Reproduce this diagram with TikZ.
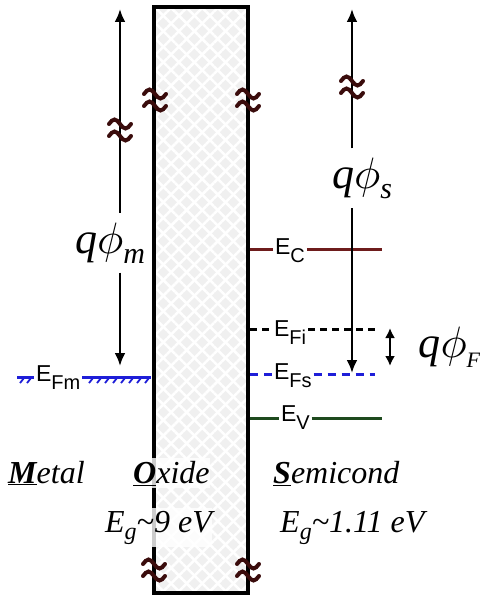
\documentclass[tikz,border=0pt]{standalone}
\usepackage{graphicx}
\usepackage{fontspec}
\setmainfont{Liberation Serif}
\newfontfamily\lsans{Liberation Sans}
\usetikzlibrary{arrows.meta,patterns.meta,calc}
\definecolor{brkcol}{HTML}{3A0C0C}
\definecolor{eccol}{HTML}{6E1C1C}
\definecolor{evcol}{HTML}{1E4A1E}
\definecolor{efcol}{HTML}{1E1ED8}
\definecolor{oxfill}{HTML}{F0F0F0}
\newcommand{\levlab}[1]{{\lsans\fontsize{23}{23}\selectfont E\raisebox{-8pt}{\fontsize{20}{20}\selectfont #1}}}
\newcommand{\qphilab}[2][30]{{\fontsize{44}{44}\selectfont\textit{q}{\fontsize{10}{12}\selectfont\scalebox{4.4}{$\phi$}}\raisebox{-10pt}{\fontsize{#1}{#1}\selectfont\textit{#2}}}}
\newcommand{\egaplab}{\textit{E}\raisebox{-7pt}{\fontsize{24}{24}\selectfont\textit{g}}}
\tikzset{
  arr/.style={line width=2.5pt,-{Latex[length=13pt,width=11pt]}},
  darr/.style={line width=2.5pt,{Latex[length=10pt,width=10pt]}-{Latex[length=10pt,width=10pt]}},
  qlab/.style={inner sep=0pt,outer sep=9.5pt,anchor=base},
  levtext/.style={inner sep=0pt,outer xsep=2pt,anchor=base west},
  levline/.style={line width=3pt},
  btext/.style={inner xsep=0pt,inner ysep=3pt,anchor=base west,font=\fontsize{32}{32}\selectfont\itshape},
  whitebg/.style={fill=white,fill opacity=0.8,text opacity=1},
  brkline/.style={draw=brkcol,line width=4pt,line cap=round},
  brk/.pic={
    \draw[brkline] (-11,-6) sin (-5.5,-10.5) cos (0,-6) sin (5.5,-1.5) cos (11,-6);
    \draw[brkline] (-11,6) sin (-5.5,1.5) cos (0,6) sin (5.5,10.5) cos (11,6);
  }
}
\begin{document}
\begin{tikzpicture}[x=1pt,y=-1pt]
\useasboundingbox (0,0) rectangle (479,599);
% oxide
\fill[oxfill] (154,7) rectangle (248,593);
\fill[pattern={Lines[angle=45,distance=11pt,line width=2.5pt]},pattern color=white] (154,7) rectangle (248,593);
\fill[pattern={Lines[angle=-45,distance=11pt,line width=2.5pt]},pattern color=white] (154,7) rectangle (248,593);
\draw[line width=3.5pt] (154,7) rectangle (248,593);

% arrows qphi_m
\coordinate (Ltop) at (120,9);
\coordinate (Lbot) at (120,366);
\node[qlab] (qm) at (110,253) {\qphilab{m}};
\draw[arr] (qm.north -| Ltop) -- (Ltop);
\draw[arr] (qm.south -| Lbot) -- (Lbot);

% arrows qphi_s
\coordinate (Rtop) at (352,9);
\coordinate (Rbot) at (352,373);
\node[qlab] (qs) at (362,188.5) {\qphilab{s}};
\draw[arr] (qs.north -| Rtop) -- (Rtop);

% levels
\coordinate (ECa) at (250,249);
\coordinate (ECb) at (382,249);
\node[levtext] (ECt) at (273,254) {\levlab{C}};
\draw[levline,eccol] (ECa) -- (ECa -| ECt.west);
\draw[levline,eccol] (ECa -| ECt.east) -- (ECb);

\coordinate (EFia) at (250,329);
\coordinate (EFib) at (375,329);
\node[levtext] (EFit) at (272,336) {\levlab{Fi}};
\draw[levline,black,dash pattern=on 7pt off 5pt] (EFia) -- (EFia -| EFit.west);
\draw[levline,black,dash pattern=on 7pt off 5pt] (EFia -| EFit.east) -- (EFib);

\coordinate (EFsa) at (250,374);
\coordinate (EFsb) at (375,374);
\node[levtext] (EFst) at (272,379) {\levlab{Fs}};
\draw[levline,efcol,dash pattern=on 8pt off 6pt] (EFsa) -- (EFsa -| EFst.west);
\draw[levline,efcol,dash pattern=on 8pt off 6pt] (EFsa -| EFst.east) -- (EFsb);

\coordinate (EVa) at (250,418);
\coordinate (EVb) at (382,418);
\node[levtext] (EVt) at (279,421) {\levlab{V}};
\draw[levline,evcol] (EVa) -- (EVa -| EVt.west);
\draw[levline,evcol] (EVa -| EVt.east) -- (EVb);

% right arrow lower part (over levels)
\draw[arr] (qs.south -| Rbot) -- (Rbot);

% metal Fermi level
\coordinate (EFma) at (17,377);
\coordinate (EFmb) at (151,377);
\node[levtext] (EFmt) at (34,381) {\levlab{Fm}};
\draw[levline,efcol] (EFma) -- (EFma -| EFmt.west);
\draw[levline,efcol] (EFma -| EFmt.east) -- (EFmb);
\foreach \x in {24,31,93,101,109,117,125,133,141,149}
  \draw[efcol,line width=1.8pt] (\x,378) -- ++(-4,5);

% qphi_F
\coordinate (Ft) at (390,328);
\coordinate (Fb) at (390,366);
\draw[darr] (Ft) -- (Fb);
\node[qlab,anchor=base west] (qF) at (409,357.5) {\qphilab[22]{F}};

% bottom labels
\node[btext] (metal) at (8,483) {\underline{\textbf{M}}etal};
\node[btext,whitebg] (oxide) at (133,483) {\underline{\textbf{O}}xide};
\node[btext] (semi) at (273,483) {\underline{\textbf{S}}emicond};
\node[btext,whitebg] (eg1) at (105,532) {\egaplab\textasciitilde 9 eV};
\node[btext] (eg2) at (280,532) {\egaplab\textasciitilde 1.11 eV};

% breaks
\pic at (155,100) {brk};
\pic at (248,100) {brk};
\pic at (120,130) {brk};
\pic at (352,87) {brk};
\pic at (154,570) {brk};
\pic at (248,570) {brk};
\end{tikzpicture}
\end{document}
